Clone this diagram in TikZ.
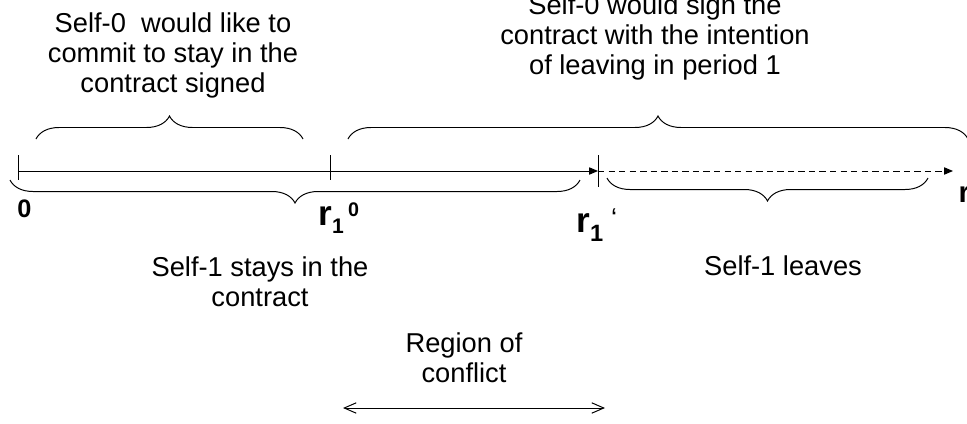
\documentclass[tikz,border=0pt]{standalone}
\usepackage{fontspec}
\setmainfont{Liberation Sans}
\usetikzlibrary{arrows.meta,decorations.pathreplacing}

\begin{document}
\begin{tikzpicture}[
            x=0.025cm, y=-0.025cm,
            line width=0.7pt,
            txt/.style={align=center, inner sep=0, font=\fontsize{19.4}{21.2}\selectfont},
            lbl/.style={inner sep=0, font=\fontsize{25}{25}\selectfont\bfseries},
            brace/.style={decorate, decoration={brace, amplitude=0.575cm}},
            arrow/.style={-{Triangle[length=0.22cm, width=0.18cm]}},
            span/.style={{Straight Barb[length=0.3cm, width=0.26cm]}-{Straight Barb[length=0.3cm, width=0.26cm]}}
            ]
            \useasboundingbox (0,0) rectangle (967,423);

            % Axis points
            \coordinate (o) at (18,171);
            \coordinate (rzero) at (330,171);
            \coordinate (rone) at (598,171);
            \coordinate (rmax) at (953,171);

            % Axis
            \draw[arrow] (o) -- (rone);
            \draw[arrow, dash pattern=on 4.5pt off 3pt] (rone) -- (rmax);
            \draw (o) ++(0,-16) -- ++(0,25);
            \draw (rzero) ++(0,-16) -- ++(0,25);
            \draw (rone) ++(0,-16) -- ++(0,32);

            % Axis labels
            \node[lbl, font=\fontsize{18}{18}\selectfont\bfseries, anchor=base] (zlab) at (24.5,217) {0};
            \node[lbl, anchor=base west] (rzlab) at (318,225) {r\raisebox{-5.7pt}{\fontsize{15}{15}\selectfont 1}\hspace{3pt}\raisebox{5.7pt}{\fontsize{14}{14}\selectfont 0}};
            \node[lbl, anchor=base west] (rolab) at (576,232) {r\raisebox{-7pt}{\fontsize{16.8}{16.8}\selectfont 1}\hspace{5.5pt}\raisebox{3pt}{\fontsize{19.4}{19.4}\selectfont\mdseries ‘}};
            \node[lbl, font=\fontsize{21}{21}\selectfont\bfseries, anchor=base west] (rlab) at (958,202) {r};

            % Braces above
            \draw[brace] (36,139) -- (303,139);
            \draw[brace] (348,139) -- (968,139);

            % Braces below
            \draw[brace] (580,180) -- (10,180);
            \draw[brace] (928,178) -- (607,178);

            % Texts (base = last line)
            \node[txt, anchor=base] (commit) at (173,92) {Self-0\ \ would like to\\commit to stay in the\\contract signed};
            \node[txt, anchor=base] (intend) at (655,74) {Self-0 would sign the\\contract with the intention\\of leaving in period 1};
            \node[txt, anchor=base] (stays) at (260,306) {Self-1 stays in the\\contract};
            \node[txt, anchor=base] (leaves) at (783,275) {Self-1 leaves};
            \node[txt, anchor=base] (conflict) at (464,382) {Region of\\conflict};

            % Region of conflict
            \coordinate (cleft) at (343,408);
            \coordinate (cright) at (605,408);
            \draw[span] (cleft) -- (cright);

        \end{tikzpicture}
\end{document}
